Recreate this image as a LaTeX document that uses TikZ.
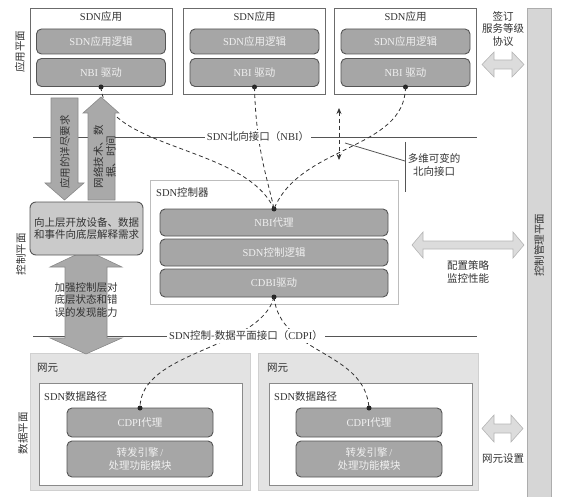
\documentclass[tikz,border=0pt]{standalone}
\usepackage{fontspec}
\setmainfont{Noto Sans CJK SC}
\newfontfamily\lat{Liberation Serif}
\usetikzlibrary{arrows.meta}
\definecolor{modfill}{HTML}{A6A6A6}
\definecolor{modedge}{HTML}{555555}
\definecolor{modtext}{HTML}{F0F0F0}
\definecolor{txt}{HTML}{333333}
\definecolor{appedge}{HTML}{6B6B6B}
\definecolor{ctrledge}{HTML}{BDBDBD}
\definecolor{nefill}{HTML}{E3E3E3}
\definecolor{needge}{HTML}{D0D0D0}
\definecolor{nein}{HTML}{8A8A8A}
\definecolor{midfill}{HTML}{CACACA}
\definecolor{bigfill}{HTML}{A9A9A9}
\definecolor{bigedge}{HTML}{8A8A8A}
\definecolor{litefill}{HTML}{DCDCDC}
\definecolor{liteedge}{HTML}{B5B5B5}
\definecolor{mgfill}{HTML}{D6D6D6}
\definecolor{mgedge}{HTML}{ADADAD}
\definecolor{ifc}{HTML}{555555}
\begin{document}
\begin{tikzpicture}[x=1pt,y=-1pt,
  every node/.style={font=\fontsize{10.5}{12.5}\selectfont, text=txt, inner sep=1pt},
  appbox/.style={draw=appedge, line width=0.8pt, fill=white, inner sep=0},
  ctrlbox/.style={draw=ctrledge, line width=0.8pt, fill=white, inner sep=0},
  neout/.style={draw=needge, line width=0.6pt, fill=nefill, inner sep=0},
  neinner/.style={draw=nein, line width=0.7pt, fill=white, inner sep=0},
  mod/.style={draw=modedge, line width=0.9pt, fill=modfill, rounded corners=5pt, text=modtext, inner sep=0, align=center},
  midbox/.style={draw=modedge, line width=0.9pt, fill=midfill, rounded corners=6pt, inner sep=0, align=center},
  dot/.style={circle, fill=black!85, inner sep=0, minimum size=5pt},
  ifline/.style={draw=ifc, line width=0.8pt},
  lbl/.style={fill=white, inner sep=2pt},
  dconn/.style={draw=black!80, line width=0.8pt, dash pattern=on 4pt off 3pt},
  bigarrow/.style={fill=bigfill, draw=bigedge, line width=0.6pt},
  litearrow/.style={fill=litefill, draw=liteedge, line width=0.6pt},
  rot/.style={rotate=90, align=center}
]
\useasboundingbox (0,0) rectangle (575,497);

% management bar
\node[fill=mgfill, draw=mgedge, line width=0.6pt, minimum width=24, minimum height=492, inner sep=0] (mg) at (539,254) {};
\node[rotate=90] (mgt) at (539,245) {控制管理平面};

% plane labels
\node[rot] (pl1) at (20,52) {应用平面};
\node[rot] (pl2) at (21,254) {控制平面};
\node[rot] (pl3) at (23,433) {数据平面};

% application boxes
\foreach \i/\cx in {1/101,2/254.5,3/405.5}{
  \node[appbox, minimum width=142, minimum height=86] (app\i) at (\cx,51) {};
  \node (apt\i) at (\cx,17) {{\lat SDN}应用};
  \node[mod, minimum width=129, minimum height=25] (al\i) at (\cx,41.5) {{\lat SDN}应用逻辑};
  \node[mod, minimum width=129, minimum height=28] (ad\i) at (\cx,72.5) {{\lat NBI }驱动};
  \node[dot] (ap\i) at (\cx,87) {};
}

% controller
\node[ctrlbox, minimum width=248, minimum height=124] (ctrl) at (274,242) {};
\node[anchor=west] (ctrlt) at (155,193) {{\lat SDN}控制器};
\node[mod, minimum width=228, minimum height=27] (nbia) at (274,222.5) {{\lat NBI}代理};
\node[mod, minimum width=228, minimum height=27] (ctl) at (274,252.5) {{\lat SDN}控制逻辑};
\node[mod, minimum width=228, minimum height=28] (cdbi) at (274,283) {{\lat CDBI}驱动};
\node[dot] (cu) at (274,209) {};
\node[dot] (cb) at (274,297) {};

% network elements
\foreach \n/\cx/\ix/\mx/\tx in {1/140/140.5/140/36, 2/368.5/370.5/369/266}{
  \node[neout, minimum width=220, minimum height=137] (ne\n) at (\cx,421.5) {};
  \node[anchor=west] (net\n) at (\tx,368) {网元};
  \node[neinner, minimum width=203, minimum height=102] (dp\n) at (\ix,434) {};
  \node[anchor=west] (dpt\n) at (\tx+7,397) {{\lat SDN}数据路径};
  \node[mod, minimum width=146, minimum height=29] (ca\n) at (\mx,422.5) {{\lat CDPI}代理};
  \node[mod, minimum width=146, minimum height=36] (fw\n) at (\mx,459) {转发引擎{\lat\,/}\\[1pt]处理功能模块};
  \node[dot] (cd\n) at (\mx,408) {};
}

% interface lines
\coordinate (nl) at (33,137); \coordinate (nr) at (477,137);
\coordinate (cl) at (33,336); \coordinate (cr) at (477,336);
\draw[ifline] (nl) -- (nr);
\draw[ifline] (cl) -- (cr);

% dashed connectors
\draw[dconn] (ap1.center) .. controls (105,150) and (245,145) .. (cu.center);
\draw[dconn] (ap2.center) .. controls (256,150) and (268,180) .. (cu.center);
\draw[dconn] (ap3.center) .. controls (405,150) and (300,145) .. (cu.center);
\draw[dconn] (cb.center) .. controls (260,350) and (140,350) .. (cd1.center);
\draw[dconn] (cb.center) .. controls (280,355) and (365,350) .. (cd2.center);

% interface labels
\node[lbl] (nbi) at (258,137) {{\lat SDN}北向接口（{\lat NBI}）};
\node[lbl] (cdpi) at (246,336) {{\lat SDN}控制-数据平面接口（{\lat CDPI}）};

% variable NBI
\coordinate (va) at (339,108); \coordinate (vb) at (339,160);
\draw[dconn, {Stealth[length=6pt,width=5pt]}-{Stealth[length=6pt,width=5pt]}] (va) -- (vb);
\coordinate (pa) at (345,143); \coordinate (pb) at (405,161);
\coordinate (pt) at (405,142); \coordinate (pbot) at (405,192);
\draw[ifline] (pa) -- (pb);
\draw[ifline] (pt) -- (pbot);
\node[align=center] (mv) at (434,165) {多维可变的\\北向接口};

% gray vertical arrows
\draw[bigarrow] (51,98) -- (78,98) -- (78,183) -- (84,183) -- (64.5,200) -- (45,183) -- (51,183) -- cycle;
\node[rot] (req) at (65,152) {应用的详尽要求};
\draw[bigarrow] (101,97) -- (119,113) -- (115,113) -- (115,200) -- (88,200) -- (88,113) -- (83,113) -- cycle;
\node[rot] (net) at (104.5,157) {网络技术、数\\据、时间};
\draw[bigarrow] (86,250) -- (122,267) -- (107,267) -- (107,338) -- (122,338) -- (86,354) -- (50,338) -- (65,338) -- (65,267) -- (50,267) -- cycle;
\node[align=center] (enh) at (86,300) {加强控制层对\\底层状态和错\\误的发现能力};

% middle box
\node[midbox, minimum width=113, minimum height=53] (mid) at (86.5,228.5) {向上层开放设备、数据\\和事件向底层解释需求};

% light double arrows
\draw[litearrow] (482,64.5) -- (494,52) -- (494,60) -- (512,60) -- (512,52) -- (524,64.5) -- (512,77) -- (512,69) -- (494,69) -- (494,77) -- cycle;
\node[align=center] (sla) at (503,29) {签订\\服务等级\\协议};
\draw[litearrow] (412,245) -- (423,232) -- (423,241) -- (513,241) -- (513,232) -- (524,245) -- (513,258) -- (513,249) -- (423,249) -- (423,258) -- cycle;
\node[align=center] (cfg) at (468,272) {配置策略\\监控性能};
\draw[litearrow] (482,428.5) -- (494,415) -- (494,424) -- (511,424) -- (511,415) -- (523,428.5) -- (511,442) -- (511,433) -- (494,433) -- (494,442) -- cycle;
\node (nes) at (503,459) {网元设置};
\end{tikzpicture}
\end{document}
